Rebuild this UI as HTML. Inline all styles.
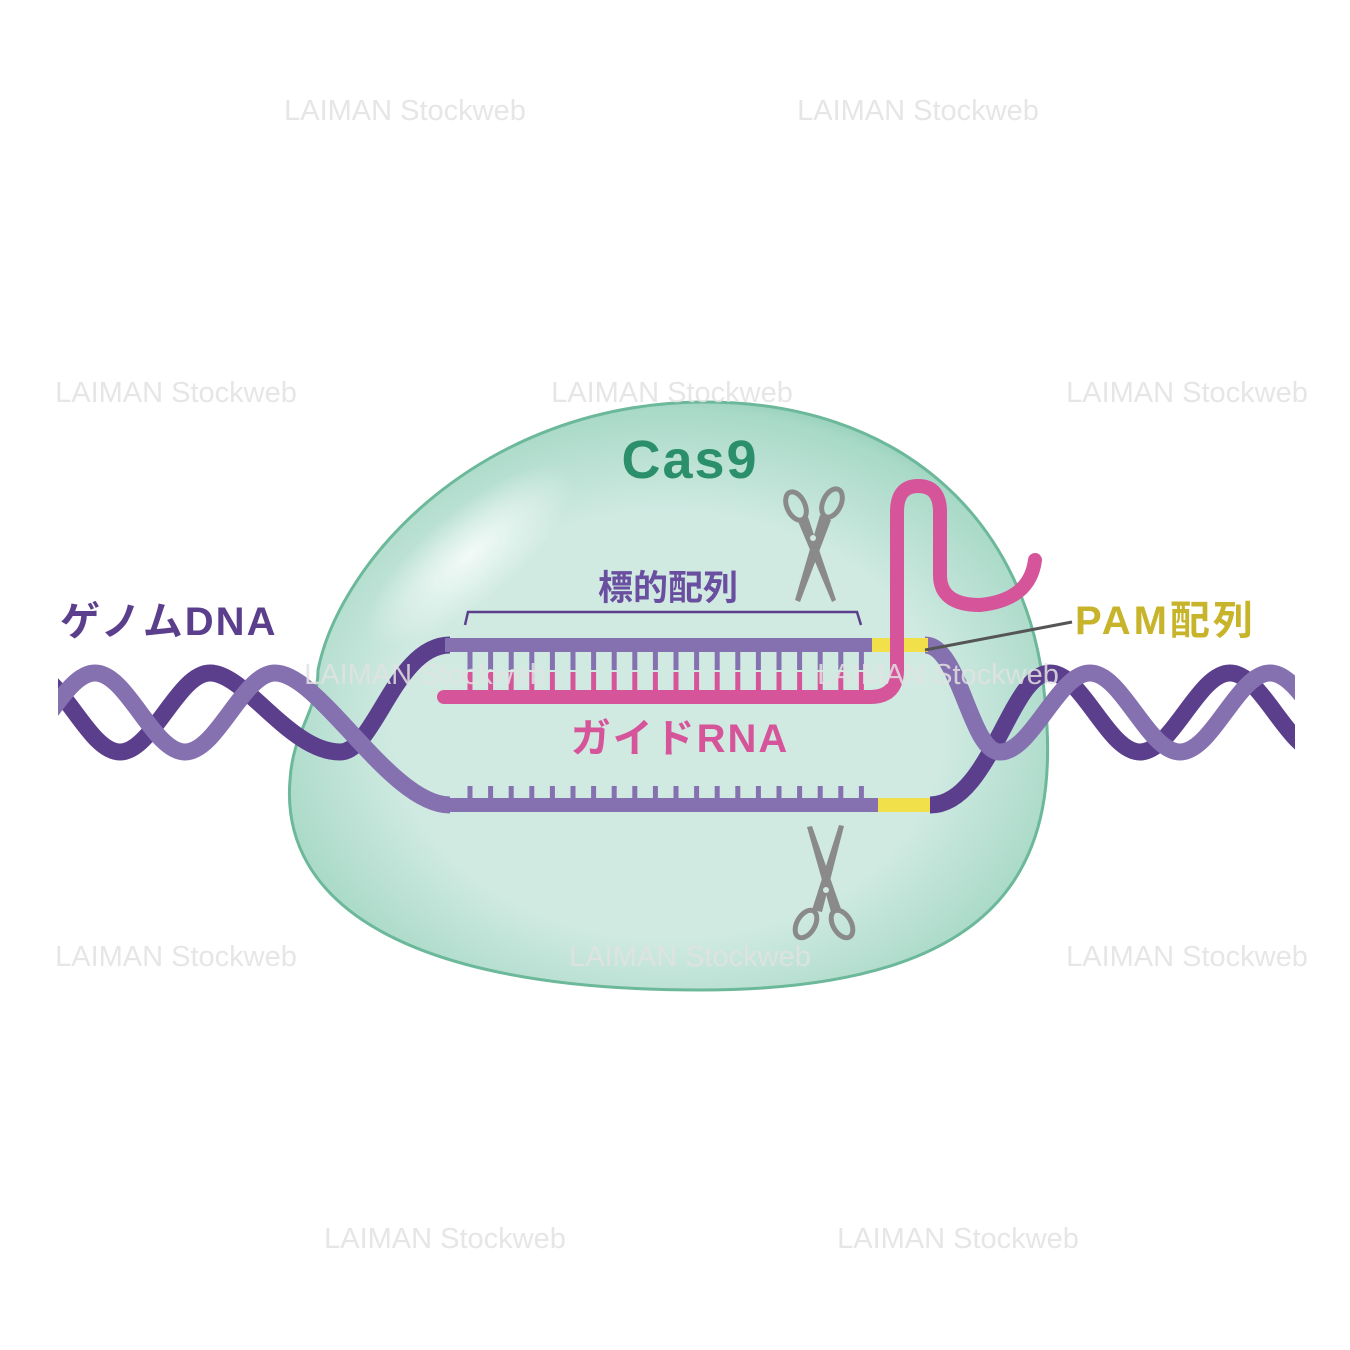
<!DOCTYPE html>
<html><head><meta charset="utf-8"><style>body{margin:0;background:#fff}svg{display:block}</style></head><body>
<svg width="1350" height="1350" viewBox="0 0 1350 1350" xmlns="http://www.w3.org/2000/svg">
<defs>
<radialGradient id="g" cx="0.5" cy="0.55" r="0.6">
<stop offset="0.6" stop-color="#d0eae2"/><stop offset="0.9" stop-color="#a8d9c7"/><stop offset="1" stop-color="#7fc5ab"/></radialGradient>
<radialGradient id="hl" cx="0.5" cy="0.5" r="0.5"><stop offset="0" stop-color="#f2faf7"/><stop offset="1" stop-color="#f2faf7" stop-opacity="0"/></radialGradient>
<clipPath id="cp"><rect x="58" y="0" width="1237" height="1350"/></clipPath>
</defs>
<path d="M700 402 C900 400 1030 520 1045 700 C1060 850 1020 990 700 990 C400 990 280 900 290 780 C293 730 318 712 318 670 C340 560 480 405 700 402 Z" fill="url(#g)" stroke="#6cb89a" stroke-width="3"/>
<ellipse cx="470" cy="555" rx="130" ry="45" transform="rotate(-40 470 555)" fill="url(#hl)"/>
<g fill="none" stroke-width="17" stroke-linecap="butt" clip-path="url(#cp)">
<path d="M30 673 C62 673 88 752 120 752 C152 752 178 673 210 673 C245 673 290 752 340 752 C375 752 395 645 450 645" stroke="#5b3f8c"/>
<path d="M930 805 C990 805 1010 673 1050 673 C1082 673 1108 752 1140 752 C1172 752 1198 673 1230 673 C1262 673 1288 752 1320 752" stroke="#5b3f8c"/>
<path d="M5 752 C37 752 63 673 95 673 C127 673 153 752 185 752 C217 752 243 673 275 673 C320 673 390 805 450 805" stroke="#8570b0"/>
<path d="M925 645 C960 645 970 752 1000 752 C1032 752 1058 673 1090 673 C1122 673 1148 752 1180 752 C1212 752 1238 673 1270 673 C1302 673 1328 752 1360 752" stroke="#8570b0"/>
</g>
<g fill="none">
<line x1="445" y1="645" x2="930" y2="645" stroke="#8570b0" stroke-width="14"/>
<line x1="445" y1="805" x2="930" y2="805" stroke="#8570b0" stroke-width="14"/>
</g>
<rect x="872" y="638" width="56" height="14" fill="#f2e04a"/>
<rect x="878" y="798" width="52" height="14" fill="#f2e04a"/>
<g stroke="#8570b0" stroke-width="5">
<path d="M470 652V670M490.6 652V670M511.2 652V670M531.8 652V670M552.4 652V670M573 652V670M593.6 652V670M614.2 652V670M634.8 652V670M655.4 652V670M676 652V670M696.6 652V670M717.2 652V670M737.8 652V670M758.4 652V670M779 652V670M799.6 652V670M820.2 652V670M840.8 652V670M861.4 652V670"/>
<path d="M470 786V800M490.6 786V800M511.2 786V800M531.8 786V800M552.4 786V800M573 786V800M593.6 786V800M614.2 786V800M634.8 786V800M655.4 786V800M676 786V800M696.6 786V800M717.2 786V800M737.8 786V800M758.4 786V800M779 786V800M799.6 786V800M820.2 786V800M840.8 786V800M861.4 786V800"/>
</g>
<path d="M470 672V692M490.6 672V692M511.2 672V692M531.8 672V692M552.4 672V692M573 672V692M593.6 672V692M614.2 672V692M634.8 672V692M655.4 672V692M676 672V692M696.6 672V692M717.2 672V692M737.8 672V692M758.4 672V692M779 672V692M799.6 672V692M820.2 672V692M840.8 672V692M861.4 672V692" stroke="#d6559a" stroke-width="5"/>
<path d="M444 697 H870 Q897 697 897 670 V512 Q897 486 918 486 Q940 486 940 512 V575 Q940 605 980 605 Q1030 600 1035 560" fill="none" stroke="#d6559a" stroke-width="14" stroke-linecap="round"/>
<path d="M465 625 L468 612 H857 L861 625" fill="none" stroke="#5b3f8c" stroke-width="2.5"/>
<line x1="925" y1="650" x2="1072" y2="622" stroke="#555" stroke-width="3"/>
<g fill="none" stroke="#8a8a8a" stroke-width="5">
<ellipse cx="796" cy="506" rx="9" ry="15" transform="rotate(-25 796 506)"/>
<ellipse cx="832" cy="503" rx="9" ry="15" transform="rotate(25 832 503)"/>
<ellipse cx="806" cy="924" rx="9" ry="15" transform="rotate(30 806 924)"/>
<ellipse cx="842" cy="924" rx="9" ry="15" transform="rotate(-30 842 924)"/>
</g>
<path d="M797 519 L808 517 L836 600 L832 602 Z" fill="#8a8a8a"/>
<path d="M820 515 L831 520 L800 602 L795 600 Z" fill="#8a8a8a"/>
<circle cx="813" cy="538" r="3" fill="#d0eae2"/>
<path d="M812 910 L822 912 L844 826 L839 825 Z" fill="#8a8a8a"/>
<path d="M831 912 L841 909 L812 826 L807 827 Z" fill="#8a8a8a"/>
<circle cx="826" cy="890" r="3" fill="#d0eae2"/>
<g font-family="Liberation Sans, Noto Sans CJK JP, sans-serif" font-weight="bold">
<text x="690" y="478" font-size="54" fill="#2a8f6a" text-anchor="middle" letter-spacing="2">Cas9</text>
<text x="668" y="600" font-size="35" fill="#6a4fa0" text-anchor="middle">標的配列</text>
<text x="60" y="635" font-size="40" fill="#5b3f8c" letter-spacing="2">ゲノムDNA</text>
<text x="680" y="752" font-size="40" fill="#d6559a" text-anchor="middle" letter-spacing="2">ガイドRNA</text>
<text x="1075" y="634" font-size="40" fill="#c8b42a" letter-spacing="3">PAM配列</text>
</g>
<g font-family="Liberation Sans, sans-serif" font-size="29" fill="#e2e2e2" fill-opacity="0.85" text-anchor="middle">
<text x="405" y="120">LAIMAN Stockweb</text><text x="918" y="120">LAIMAN Stockweb</text>
<text x="176" y="402">LAIMAN Stockweb</text><text x="672" y="402">LAIMAN Stockweb</text><text x="1187" y="402">LAIMAN Stockweb</text>
<text x="425" y="684">LAIMAN Stockweb</text><text x="938" y="684">LAIMAN Stockweb</text>
<text x="176" y="966">LAIMAN Stockweb</text><text x="690" y="966">LAIMAN Stockweb</text><text x="1187" y="966">LAIMAN Stockweb</text>
<text x="445" y="1248">LAIMAN Stockweb</text><text x="958" y="1248">LAIMAN Stockweb</text>
</g>
</svg>
</body></html>
